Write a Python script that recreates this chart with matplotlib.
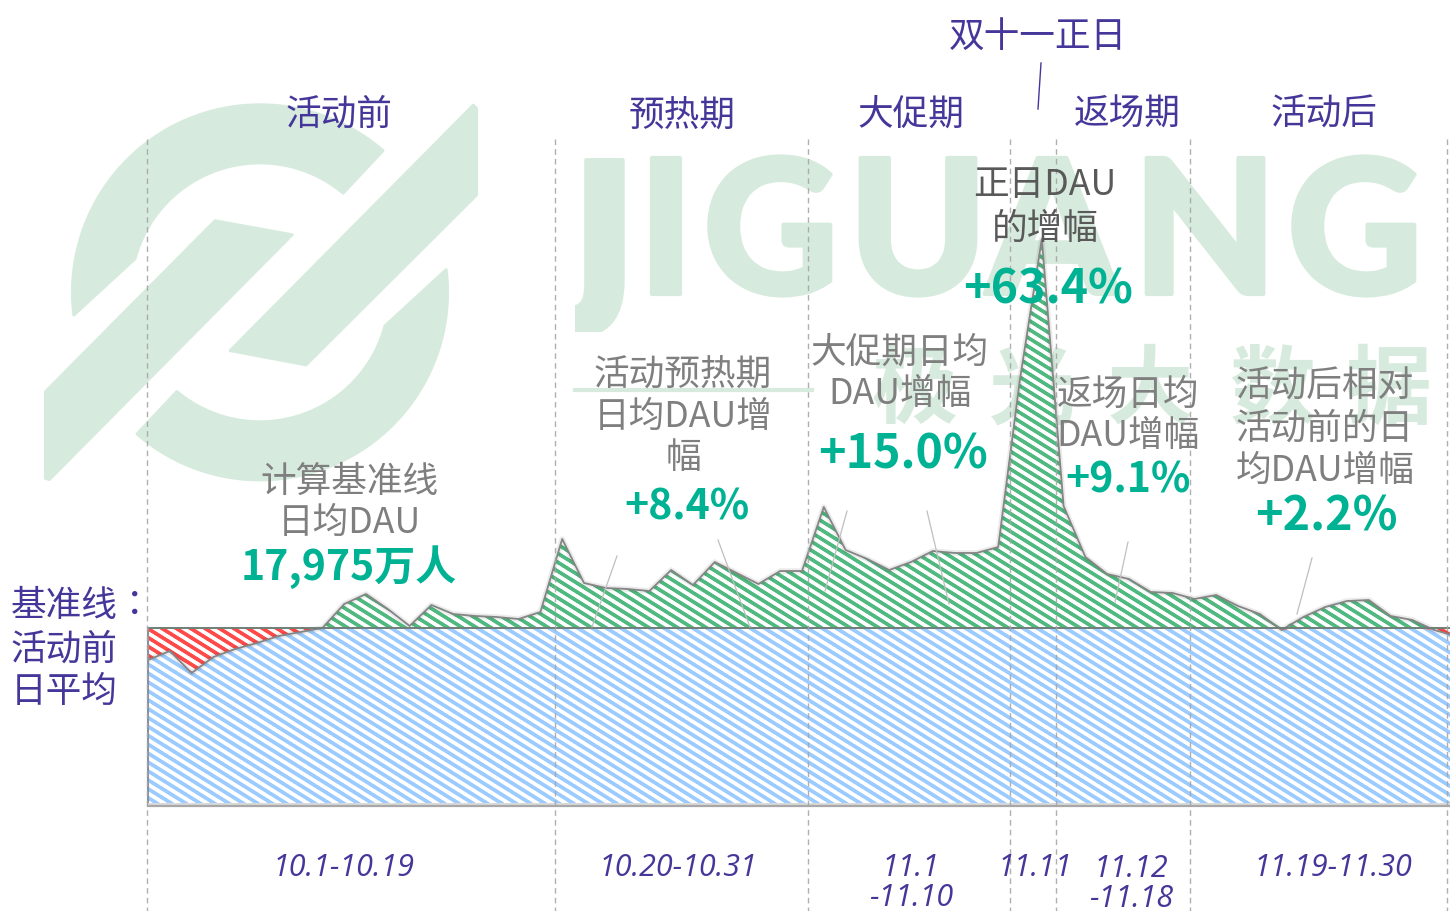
import numpy as np
import matplotlib
matplotlib.use('Agg')
import matplotlib.pyplot as plt
import matplotlib.patheffects as pe
from matplotlib.patches import PathPatch, Polygon, Rectangle

plt.rcParams['font.family'] = ['Noto Sans CJK SC', 'DejaVu Sans']

# DAU, 万人, 10.1 - 11.30
dau = [17037, 17301, 16657, 17125, 17360, 17535, 17741, 17858, 17975, 18678,
       18971, 18532, 18034, 18649, 18385, 18327, 18297, 18239, 18444, 20583,
       19294, 19147, 19118, 19059, 19674, 19235, 19909, 19587, 19264, 19645,
       19645, 21520, 20260, 19997, 19674, 19909, 20231, 20173, 20173, 20348,
       25271, 29373, 21550, 20055, 19557, 19411, 19030, 19001, 18825, 18942,
       18620, 18385, 17916, 18297, 18590, 18766, 18795, 18327, 18209, 17916,
       17741]
baseline = 17975

phase_names = ['活动前', '预热期', '大促期', '返场期', '活动后']
phase_dates = ['10.1-10.19', '10.20-10.31', '11.1\n-11.10', '11.11', '11.12\n-11.18', '11.19-11.30']

NAVY = '#45379A'
GRAY = '#7F7F7F'
TEAL = '#00B294'
WM = '#D6EBDD'

fig = plt.figure(figsize=(14.5, 9.12), dpi=100)


def pixel_axes(z):
    a = fig.add_axes([0, 0, 1, 1], zorder=z)
    a.set_xlim(0, 1450)
    a.set_ylim(912, 0)
    a.axis('off')
    return a


# watermark
bg = pixel_axes(0)


def logo_xy(pts):
    pts = np.asarray(pts, dtype=float)
    return np.column_stack([30 + pts[:, 0] / 3, 90 + pts[:, 1] / 3])


def ring_part(a0, a1, r0, r1, b0, b1):
    ta = np.radians(np.linspace(a0, a1, 60))
    tb = np.radians(np.linspace(b1, b0, 60))
    outer = np.column_stack([690 + r0 * np.cos(ta), 610 + r0 * np.sin(ta)])
    inner = np.column_stack([690 + r1 * np.cos(tb), 610 + r1 * np.sin(tb)])
    return np.vstack([outer, inner])


upper = ring_part(173, 311, 563, 388, 195, 310)
lower = 2 * np.array([690, 610]) - upper
left_bar = [(555, 395), (787, 437), (58, 1172), (46, 1168), (46, 908)]
right_bar = [(1330, 48), (1340, 58), (1340, 318), (828, 828), (600, 785)]
for shape in (upper, lower, left_bar, right_bar):
    bg.add_patch(Polygon(logo_xy(shape), closed=True, facecolor=WM, edgecolor=WM, lw=2, joinstyle='round'))

wm_letters = ['J', 'I', 'G', 'U', 'A', 'N', 'G']
wm_x = [604, 666, 771, 918, 1052, 1205, 1355]
wm_font = ['Open Sans', 'Lato', 'Lato', 'Lato', 'Lato', 'Lato', 'Lato']
wm_stroke = [pe.withStroke(linewidth=3, foreground=WM)]
for ch, x, fam in zip(wm_letters, wm_x, wm_font):
    t = bg.text(x, 295, ch, fontsize=135, family=fam, weight='black', color=WM, ha='center', va='baseline',
                path_effects=wm_stroke)
    if ch == 'J':
        # hook is cut flat in the logo
        t.set_clip_path(Rectangle((575, 100), 100, 233, transform=bg.transData))
        t.set_clip_on(True)

wm_cn = ['极', '光', '大', '数', '据']
wm_cn_x = [915, 1032, 1150, 1272, 1388]
for ch, x in zip(wm_cn, wm_cn_x):
    bg.text(x, 391, ch, fontsize=62, weight='bold', color=WM, ha='center', va='center')
bg.plot([575, 812], [391, 391], color=WM, lw=3)

# main chart
px_day = 21.8
ax = fig.add_axes([148 / 1450, (912 - 806) / 912, 1302 / 1450, 606 / 912], zorder=1)
ax.patch.set_alpha(0)
ax.axis('off')
x_lim = (0, 1302 / px_day)
y_lim = (12789, 30545)
ax.set_xlim(*x_lim)
ax.set_ylim(*y_lim)

days = np.arange(len(dau))
vals = np.array(dau, dtype=float)
y_bottom = y_lim[0]

# tilted stripes on pixel grid, hatch= only gives 45 degrees
yy, xx = np.mgrid[0:606, 0:1302]
wave = np.clip(np.sin(2 * np.pi * (yy - 0.62 * xx) / 8.9) * 1.6 + 0.5, 0, 1)


def striped(y1, y2, color):
    band = ax.fill_between(days, y1, y2, color='white', lw=0, zorder=1)
    rgb = np.array(matplotlib.colors.to_rgb(color))
    tex = 1 - wave[..., None] * (1 - rgb)
    im = ax.imshow(tex, extent=[*x_lim, *y_lim], origin='upper', aspect='auto',
                   interpolation='nearest', zorder=2)
    clip = PathPatch(band.get_paths()[0], transform=ax.transData, fc='none', ec='none')
    ax.add_patch(clip)
    im.set_clip_path(clip)


striped(y_bottom, np.minimum(vals, baseline), '#9CCBFF')
striped(baseline, np.maximum(vals, baseline), '#50B97F')
striped(np.minimum(vals, baseline), baseline, '#FF4A4A')
ax.set_xlim(*x_lim)
ax.set_ylim(*y_lim)

# soft shadow + outline
ax.plot(days, vals, color='#000000', alpha=0.08, lw=4, zorder=3)
ax.plot(days, vals, color='#858585', lw=1.3, zorder=4)
ax.axhline(baseline, color='#6F7F78', lw=1.4, zorder=4)
ax.plot([0, 0], [y_bottom, baseline], color='#8A8FA0', lw=1.5, zorder=4, clip_on=False)

# annotations
fg = pixel_axes(2)

fg.fill_between([148, 1450], 804, 806, color='#D9D9D9', lw=0)
fg.plot([148, 1450], [807, 807], color='#A8A8A8', lw=1.6)

for x in [147, 555, 808, 1010, 1056, 1190, 1447]:
    fg.plot([x, x], [140, 912], color='#A6A6A6', lw=1, ls=(0, (4, 3)), alpha=0.9)

leaders = [((617, 557), (592, 628)), ((718, 541), (750, 628)), ((847, 512), (825, 592)),
           ((927, 512), (949, 605)), ((1128, 543), (1115, 603)), ((1312, 559), (1297, 615))]
for p, q in leaders:
    fg.plot([p[0], q[0]], [p[1], q[1]], color='#BFBFBF', lw=0.9)
fg.plot([1041, 1038], [64, 110], color=NAVY, lw=1)

CJK_SIZE = 25.7
DY = 2.5

for name, x, y in zip(phase_names, [339, 682, 911, 1127, 1324], [112, 113, 112, 112, 112]):
    fg.text(x, y + DY, name, fontsize=CJK_SIZE, color=NAVY, ha='center', va='center')
fg.text(1038, 34 + DY, '双十一正日', fontsize=CJK_SIZE, color=NAVY, ha='center', va='center')

left_fonts = ['Noto Sans CJK TC', 'Noto Sans CJK SC', 'Noto Sans CJK SC']
for txt, y, fam in zip(['基准线：', '活动前', '日平均'], [604, 647, 689], left_fonts):
    fg.text(11, y + DY, txt, fontsize=CJK_SIZE, family=fam, color=NAVY, ha='left', va='center')

blocks = [
    (349, ['计算基准线', '日均DAU'], [479, 520], GRAY),
    (683, ['活动预热期', '日均DAU增', '幅'], [372, 414, 456], GRAY),
    (900, ['大促期日均', 'DAU增幅'], [350, 392], GRAY),
    (1045, ['正日DAU', '的增幅'], [183, 226], '#595959'),
    (1128, ['返场日均', 'DAU增幅'], [392, 434], GRAY),
    (1325, ['活动后相对', '活动前的日', '均DAU增幅'], [384, 426, 468], GRAY),
]
for x, lines, ys, col in blocks:
    for line, y in zip(lines, ys):
        fg.text(x, y + DY, line, fontsize=CJK_SIZE, color=col, ha='center', va='center')

growth = ['17,975万人', '+8.4%', '+15.0%', '+63.4%', '+9.1%', '+2.2%']
growth_x = [349, 687, 903, 1048, 1128, 1326]
growth_y = [565, 505, 452, 287, 478, 514]
growth_size = [29.5, 29.5, 33.5, 33.5, 29.5, 33.5]
for txt, x, y, s in zip(growth, growth_x, growth_y, growth_size):
    fg.text(x, y + DY, txt, fontsize=s, weight='bold', color=TEAL, ha='center', va='center')

date_x = [344, 678, 911, 1035, 1131, 1333]
date_y = [866, 866, 866, 866, 867, 866]
for txt, x, y in zip(phase_dates, date_x, date_y):
    for i, part in enumerate(txt.split('\n')):
        fg.text(x, y + 2 + 30 * i, part, fontsize=22, family='Open Sans', style='italic',
                color=NAVY, ha='center', va='center')

plt.savefig('out.png', dpi=100)
plt.close()
